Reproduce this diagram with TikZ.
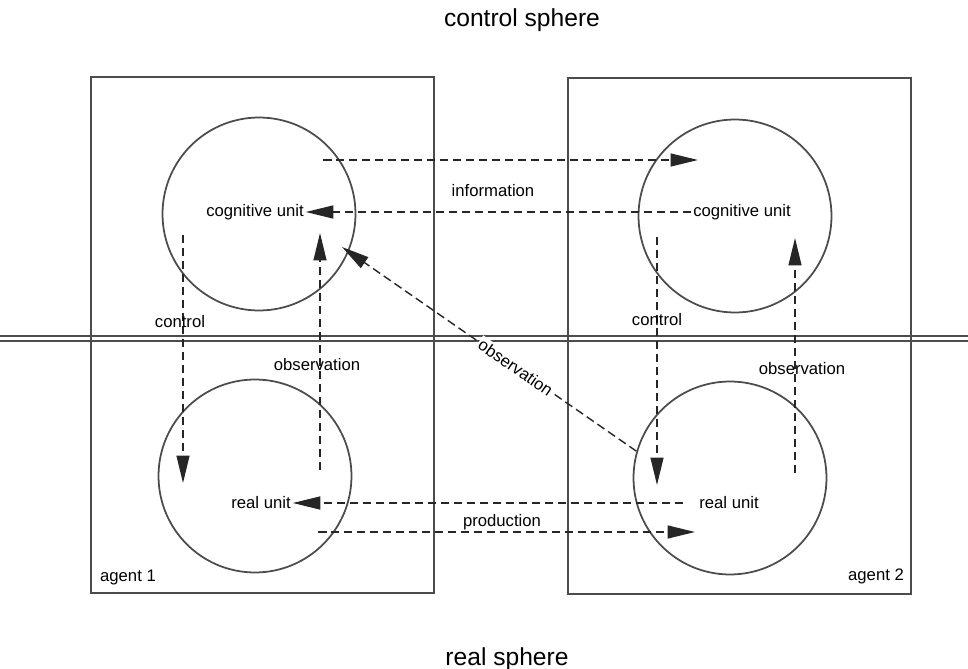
\documentclass[tikz,border=0pt]{standalone}
\usepackage{fontspec}
\setmainfont{Liberation Sans}
\usetikzlibrary{arrows.meta}
\usepackage{xcolor}
\colorlet{lineGray}{black!70}
\colorlet{dashGray}{black!85}

\begin{document}
\begin{tikzpicture}[x=0.02cm, y=-0.02cm,
    unit/.style={circle, draw=lineGray, line width=1pt, minimum size=3.86cm, inner sep=0pt},
    lbl/.style={font=\fontsize{9.5}{11}\selectfont, inner sep=1pt},
    sphere/.style={font=\fontsize{14}{16}\selectfont},
    flow/.style={draw=dashGray, line width=0.8pt, dash pattern=on 1.7mm off 0.9mm,
      -{Triangle[length=5.5mm, width=2.6mm]}}]
  \useasboundingbox (0,0) rectangle (968,669);

  \node[sphere] (ctlSphere) at (522,20) {control sphere};
  \node[sphere] (realSphere) at (507,659) {real sphere};

  \draw[lineGray, line width=1pt] (91,77) rectangle (434,593);
  \draw[lineGray, line width=1pt] (568,78) rectangle (911,594);
  \foreach \y in {336,341}
    \draw[lineGray, line width=0.8pt] (0,\y) -- (968,\y);

  \node[lbl] (agentA) at (128,577) {agent 1};
  \node[lbl] (agentB) at (876,576) {agent 2};

  \node[unit] (cogLC) at (259,214) {};
  \node[unit] (realLC) at (255,476) {};
  \node[unit] (cogRC) at (735,216) {};
  \node[unit] (realRC) at (730,478) {};

  \node[lbl] (cogL) at (255,212) {cognitive unit};
  \node[lbl] (realL) at (261,503) {real unit};
  \node[lbl] (cogR) at (742,212) {cognitive unit};
  \node[lbl] (realR) at (729,503) {real unit};

  \coordinate (infoA) at (323,160);
  \coordinate (infoB) at (698,160);
  \coordinate (prodA) at (318,532);
  \coordinate (prodB) at (695,532);
  \coordinate (ctlLa) at (183,235);
  \coordinate (ctlLb) at (183,483);
  \coordinate (obsLa) at (320,470);
  \coordinate (obsLb) at (320,233);
  \coordinate (ctlRa) at (657,237);
  \coordinate (ctlRb) at (657,485);
  \coordinate (obsRa) at (795,473);
  \coordinate (obsRb) at (795,238);
  \coordinate (obsTip) at (342,247);

  \draw[flow] (infoA) -- (infoB);
  \draw[flow] (cogR.west) -- (cogL.east);
  \draw[flow] (realR.west) ++(-14,0) -- (realL.east);
  \draw[flow] (prodA) -- (prodB);
  \draw[flow] (ctlLa) -- (ctlLb);
  \draw[flow] (obsLa) -- (obsLb);
  \draw[flow] (ctlRa) -- (ctlRb);
  \draw[flow] (obsRa) -- (obsRb);
  \draw[flow] (realRC.164) -- node[lbl, sloped, pos=0.41, fill=white] (obsDiag) {observation} (obsTip);

  \node[lbl] (info) at (493,191) {information};
  \node[lbl] (prod) at (502,522) {production};
  \node[lbl] (ctlL) at (180,322) {control};
  \node[lbl] (ctlR) at (657,320) {control};
  \node[lbl] (obsL) at (317,365) {observation};
  \node[lbl] (obsR) at (802,369) {observation};
\end{tikzpicture}
\end{document}
